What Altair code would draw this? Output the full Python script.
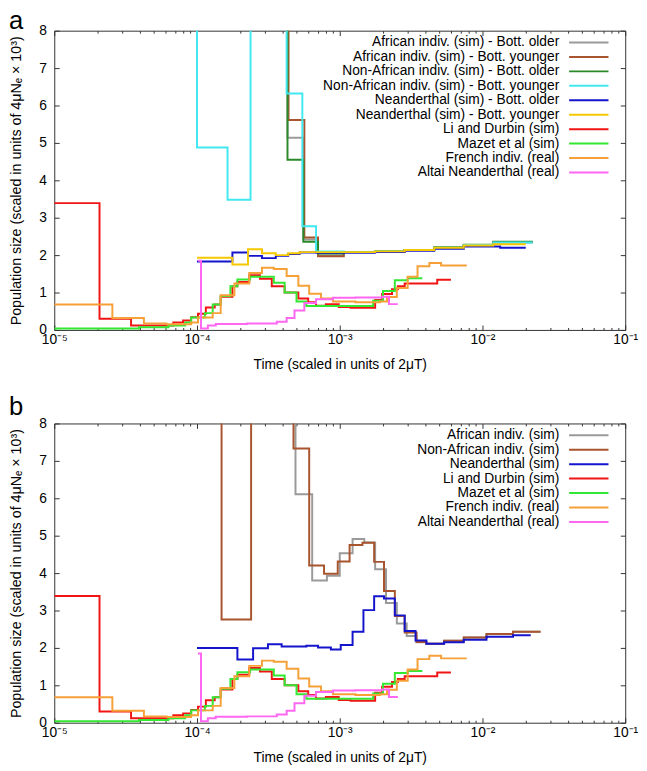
import altair as alt
import pandas as pd

FONT = "Liberation Sans"
W, H = 580, 304

# ---------------- data ----------------
# time breakpoints are log10(scaled time); values are population size (x10^3).
# value 12 = off the top of the plot (clipped)

# panel a
A_GRAY_T = [-3.60, -3.366, -3.255, -3.152, -2.972, -2.752, -2.545, -2.338, -2.131, -1.924, -1.648]
A_GRAY_V = [12, 5.14, 2.42, 1.99, 2.08, 2.10, 2.14, 2.20, 2.27, 2.34]
A_BROWN_T = [-3.60, -3.359, -3.248, -3.152, -2.972, -2.752, -2.545, -2.338, -2.131, -1.924, -1.648]
A_BROWN_V = [12, 5.61, 2.47, 1.97, 2.08, 2.10, 2.14, 2.20, 2.27, 2.35]
A_DKGREEN_T = [-3.60, -3.366, -3.255, -3.152, -2.972, -2.752, -2.545, -2.338, -2.131, -1.924, -1.648]
A_DKGREEN_V = [12, 4.55, 2.36, 2.04, 2.08, 2.10, 2.14, 2.21, 2.28, 2.36]
A_CYAN_T = [-4.30, -4.0, -3.786, -3.625, -3.372, -3.262, -3.166, -2.972, -2.752, -2.545, -2.338, -2.131, -1.924, -1.648]
A_CYAN_V = [12, 4.88, 3.48, 12, 6.32, 2.77, 2.10, 2.08, 2.10, 2.14, 2.20, 2.27, 2.34]
A_BLUE_T = [-4.0, -3.752, -3.643, -3.545, -3.448, -3.361, -3.281, -3.166, -2.972, -2.752, -2.545, -2.338, -2.131, -1.876, -1.697]
A_BLUE_V = [1.83, 2.07, 1.98, 1.92, 1.98, 2.03, 2.07, 2.06, 2.06, 2.08, 2.12, 2.17, 2.23, 2.20]
A_GOLD_T = [-4.0, -3.752, -3.643, -3.545, -3.448, -3.361, -3.281, -3.166, -2.972, -2.752, -2.545, -2.338, -2.131, -1.924, -1.697]
A_GOLD_V = [1.93, 1.75, 2.16, 2.05, 2.00, 2.05, 2.08, 2.08, 2.08, 2.10, 2.14, 2.20, 2.26, 2.29]

# shared by both panels
RED_T = [-5.0, -4.683, -4.462, -4.166, -4.097, -4.041, -3.993, -3.938, -3.876, -3.834, -3.752,
         -3.717, -3.634, -3.559, -3.476, -3.386, -3.290, -3.221, -3.166, -3.097, -3.007, -2.924,
         -2.752, -2.703, -2.634, -2.593, -2.545, -2.317, -2.221]
RED_V = [3.39, 0.30, 0.12, 0.20, 0.25, 0.34, 0.43, 0.60, 0.68, 0.89, 1.17, 1.28, 1.46, 1.37,
         1.17, 1.00, 0.84, 0.74, 0.65, 0.69, 0.61, 0.59, 0.80, 0.96, 1.09, 1.17, 1.24, 1.34]
GREEN_T = [-5.0, -4.407, -4.200, -4.083, -4.041, -3.945, -3.890, -3.834, -3.766, -3.717, -3.628,
           -3.462, -3.386, -3.303, -3.234, -2.766, -2.697, -2.614, -2.524, -2.421]
GREEN_V = [0.04, 0.07, 0.12, 0.20, 0.33, 0.45, 0.68, 0.91, 1.17, 1.35, 1.42, 1.26, 1.00, 0.76,
           0.64, 0.78, 1.04, 1.33, 1.38]
ORANGE_T = [-5.0, -4.593, -4.372, -4.214, -4.041, -3.993, -3.890, -3.834, -3.738, -3.634, -3.545,
            -3.462, -3.372, -3.290, -3.214, -3.131, -3.048, -2.890, -2.717, -2.669, -2.600, -2.524,
            -2.455, -2.372, -2.290, -2.110]
ORANGE_V = [0.68, 0.32, 0.17, 0.15, 0.20, 0.33, 0.45, 0.93, 1.24, 1.52, 1.66, 1.63, 1.44, 1.18,
            0.97, 0.84, 0.76, 0.74, 0.76, 0.88, 1.12, 1.42, 1.70, 1.79, 1.72]
MAGENTA_T = [-3.993, -3.972, -3.924, -3.869, -3.648, -3.441, -3.372, -3.317, -3.248, -3.166,
             -3.048, -2.890, -2.703, -2.655, -2.593]
MAGENTA_V = [1.85, 0.04, 0.12, 0.16, 0.17, 0.22, 0.32, 0.52, 0.72, 0.82, 0.86, 0.87, 0.89, 0.69]

# panel b
B_GRAY_T = [-3.60, -3.310, -3.193, -3.090, -3.000, -2.910, -2.828, -2.752, -2.676, -2.600, -2.531,
            -2.462, -2.393, -2.269, -2.131, -1.972, -1.786, -1.593]
B_GRAY_V = [12, 6.11, 3.80, 3.93, 4.53, 4.91, 4.82, 4.10, 3.20, 2.65, 2.32, 2.15, 2.11, 2.19, 2.28, 2.37, 2.43]
B_BROWN_T = [-4.20, -3.828, -3.621, -3.324, -3.214, -3.110, -3.014, -2.931, -2.841, -2.759, -2.690,
             -2.614, -2.545, -2.462, -2.393, -2.269, -2.131, -1.972, -1.786, -1.593]
B_BROWN_V = [12, 2.76, 12, 7.33, 4.20, 3.98, 4.31, 4.75, 4.81, 4.30, 3.52, 2.85, 2.41, 2.16, 2.11,
             2.19, 2.28, 2.37, 2.43]
B_BLUE_T = [-4.0, -3.717, -3.607, -3.503, -3.407, -3.234, -3.152, -3.062, -2.993, -2.910, -2.834,
            -2.759, -2.690, -2.614, -2.545, -2.469, -2.393, -2.269, -2.131, -1.972, -1.786, -1.662]
B_BLUE_V = [2.00, 1.69, 1.99, 2.10, 2.04, 2.06, 2.01, 1.96, 2.08, 2.43, 3.01, 3.38, 3.32, 2.87,
            2.45, 2.20, 2.11, 2.15, 2.22, 2.30, 2.34]

A_LABELS = ["African indiv. (sim) - Bott. older", "African indiv. (sim) - Bott. younger",
            "Non-African indiv. (sim) - Bott. older", "Non-African indiv. (sim) - Bott. younger",
            "Neanderthal (sim) - Bott. older", "Neanderthal (sim) - Bott. younger",
            "Li and Durbin (sim)", "Mazet et al (sim)", "French indiv. (real)", "Altai Neanderthal (real)"]
B_LABELS = ["African indiv. (sim)", "Non-African indiv. (sim)", "Neanderthal (sim)",
            "Li and Durbin (sim)", "Mazet et al (sim)", "French indiv. (real)", "Altai Neanderthal (real)"]

GRAY, BROWN, DKGREEN, CYAN = "#9a9a9a", "#a8552f", "#2a8a2a", "#40e8f0"
BLUE, GOLD, RED, GREEN = "#1414cc", "#f5c800", "#f01414", "#33e833"
ORANGE, MAGENTA = "#f7a038", "#ff66f2"

A_SERIES = [(A_GRAY_T, A_GRAY_V, GRAY), (A_BROWN_T, A_BROWN_V, BROWN),
            (A_DKGREEN_T, A_DKGREEN_V, DKGREEN), (A_CYAN_T, A_CYAN_V, CYAN),
            (A_BLUE_T, A_BLUE_V, BLUE), (A_GOLD_T, A_GOLD_V, GOLD),
            (RED_T, RED_V, RED), (GREEN_T, GREEN_V, GREEN),
            (ORANGE_T, ORANGE_V, ORANGE), (MAGENTA_T, MAGENTA_V, MAGENTA)]
B_SERIES = [(B_GRAY_T, B_GRAY_V, GRAY), (B_BROWN_T, B_BROWN_V, BROWN), (B_BLUE_T, B_BLUE_V, BLUE),
            (RED_T, RED_V, RED), (GREEN_T, GREEN_V, GREEN),
            (ORANGE_T, ORANGE_V, ORANGE), (MAGENTA_T, MAGENTA_V, MAGENTA)]

MAJOR = [1e-5, 1e-4, 1e-3, 1e-2, 1e-1]
MINOR = [k * 10.0 ** e for e in (-5, -4, -3, -2) for k in range(2, 10)]
YTICKS = [0, 1, 2, 3, 4, 5, 6, 7, 8]

X_TITLE = "Time (scaled in units of 2\u03bcT)"
Y_TITLE = "Population size (scaled in units of 4\u03bcN\u2091 \u00d7 10\u00b3)"
LABEL_EXPR = ("datum.value < 5e-5 ? '10\u207b\u2075' : datum.value < 5e-4 ? '10\u207b\u2074' : "
              "datum.value < 5e-3 ? '10\u207b\u00b3' : datum.value < 5e-2 ? '10\u207b\u00b2' : '10\u207b\u00b9'")

xscale = alt.Scale(type="log", domain=[1e-5, 1e-1], nice=False)
yscale = alt.Scale(domain=[0, 8], nice=False)

LEG_TOP, LEG_STEP = 12, 14.67


def step_df(logs, vals):
    t = [10 ** x for x in logs]
    v = list(vals) + [vals[-1]]
    return pd.DataFrame({"t": t, "v": v, "i": list(range(len(t)))})


def panel(series, labels, letter, letter_y):
    xaxis = alt.Axis(values=MAJOR, labelExpr=LABEL_EXPR, ticks=False, tickSize=0, domain=False, grid=False,
                     labelPadding=3, labelFontSize=14, labelFlush=False, labelOverlap=False,
                     titleFontSize=14, titlePadding=11, titleFontWeight="normal")
    yaxis = alt.Axis(values=YTICKS, format="d", ticks=False, tickSize=0, domain=False, grid=False,
                     labelPadding=8, labelFontSize=14, titleFontSize=14.5, titlePadding=15,
                     titleFontWeight="normal")
    lines = []
    for k, (logs, vals, col) in enumerate(series):
        xa = xaxis if k == 0 else None
        ya = yaxis if k == 0 else None
        lines.append(
            alt.Chart(step_df(logs, vals))
            .mark_line(interpolate="step-after", clip=True, strokeWidth=2, color=col)
            .encode(x=alt.X("t:Q", scale=xscale, axis=xa, title=X_TITLE),
                    y=alt.Y("v:Q", scale=yscale, axis=ya, title=Y_TITLE),
                    order="i:Q")
        )

    def xticks(vals, orient, size):
        return alt.Chart(pd.DataFrame({"t": vals, "v": [0] * len(vals)})).mark_point(opacity=0).encode(
            x=alt.X("t:Q", scale=xscale, title=None,
                    axis=alt.Axis(orient=orient, offset=-H, values=vals, tickSize=size, labels=False,
                                  domain=False, grid=False, tickColor="#333", tickWidth=1)),
            y=alt.Y("v:Q", scale=yscale, axis=None))

    def yticks(orient):
        return alt.Chart(pd.DataFrame({"v": YTICKS, "t": [1e-3] * len(YTICKS)})).mark_point(opacity=0).encode(
            x=alt.X("t:Q", scale=xscale, axis=None),
            y=alt.Y("v:Q", scale=yscale, title=None,
                    axis=alt.Axis(orient=orient, offset=-W, values=YTICKS, tickSize=5, labels=False,
                                  domain=False, grid=False, tickColor="#333", tickWidth=1)))

    ticks = [xticks(MAJOR, "top", 5), xticks(MINOR, "top", 2.5),
             xticks(MAJOR, "bottom", 5), xticks(MINOR, "bottom", 2.5),
             yticks("right"), yticks("left")]

    legend = []
    for i, (lab, (_, _, col)) in enumerate(zip(labels, series)):
        d = pd.DataFrame({"label": [lab]})
        ypix = LEG_TOP + LEG_STEP * i
        legend.append(alt.Chart(d).mark_text(align="right", baseline="middle", fontSize=14, font=FONT,
                                             color="#000").encode(text="label:N", x=alt.value(513),
                                                                  y=alt.value(ypix)))
        legend.append(alt.Chart(d).mark_rule(strokeWidth=2, color=col).encode(
            x=alt.value(523), x2=alt.value(563), y=alt.value(ypix)))

    let = alt.Chart(pd.DataFrame({"s": [letter]})).mark_text(
        align="left", baseline="alphabetic", fontSize=26, font=FONT, color="#000"
    ).encode(text="s:N", x=alt.value(-46), y=alt.value(letter_y))

    return (alt.layer(*lines, *ticks, *legend, let)
            .resolve_axis(x="independent", y="independent")
            .properties(width=W, height=H))


chart = (alt.vconcat(panel(A_SERIES, A_LABELS, "a", -2), panel(B_SERIES, B_LABELS, "b", -9), spacing=21)
         .properties(padding={"left": 0, "top": -7, "right": 0, "bottom": 0})
         .configure_view(stroke="#333", strokeWidth=1)
         .configure_axis(labelFont=FONT, titleFont=FONT, labelColor="#000", titleColor="#000"))

chart.save("out.html", embed_options={"renderer": "svg", "actions": False})
